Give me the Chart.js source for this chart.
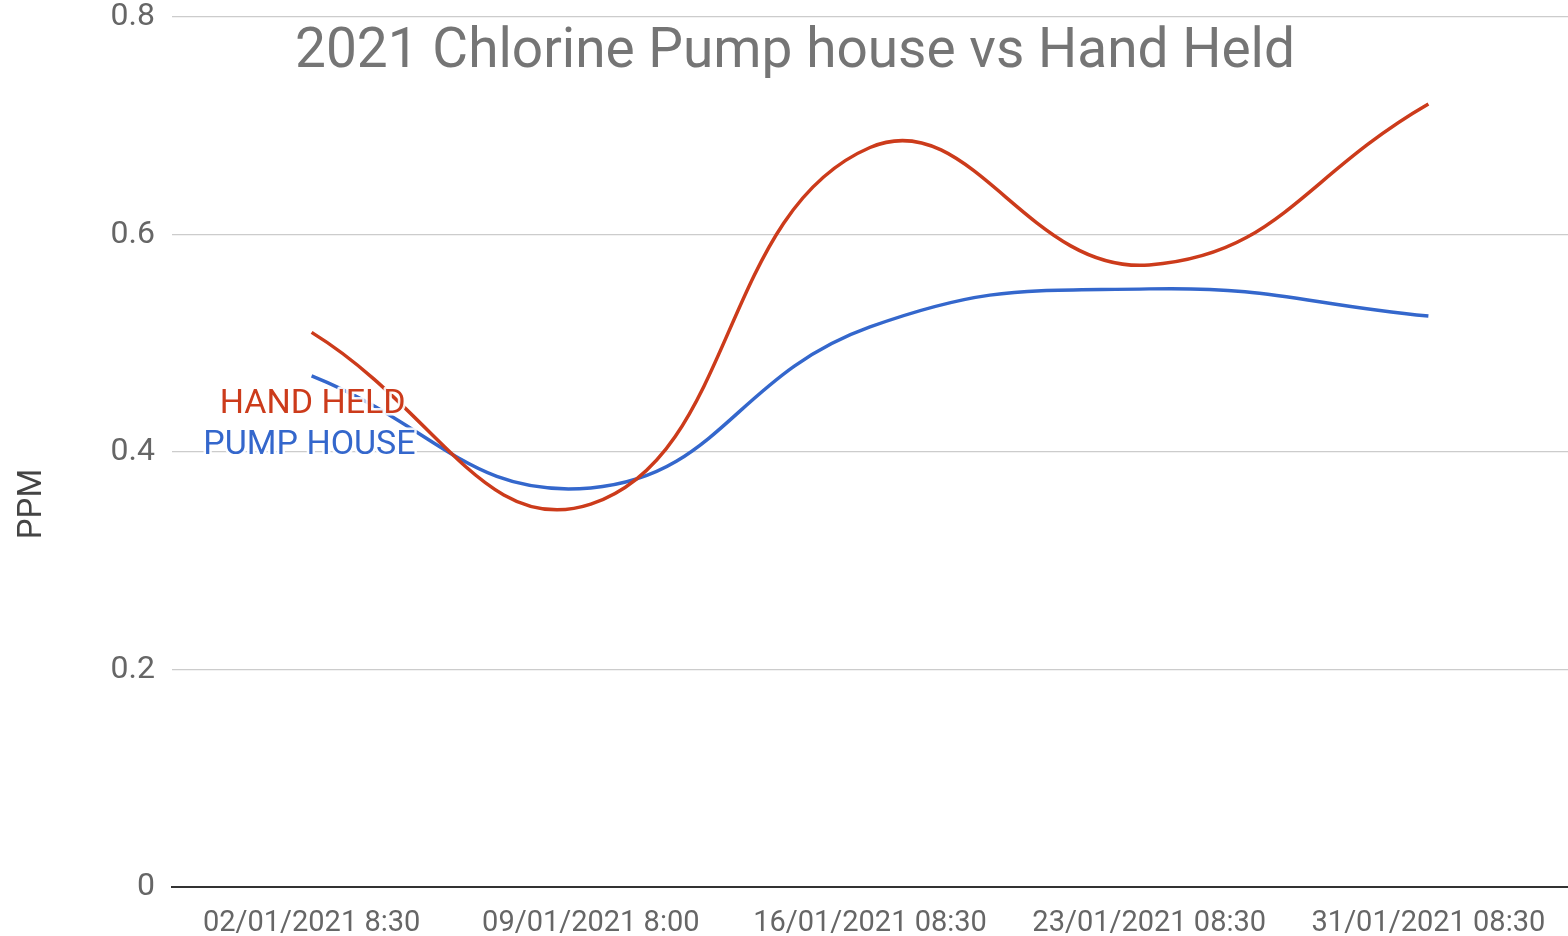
<!DOCTYPE html>
<html>
<head>
<meta charset="utf-8">
<script src="https://cdn.jsdelivr.net/npm/chart.js@4"></script>
<style>
html,body{margin:0;padding:0;background:#fff;overflow:hidden;}
#wrap{position:relative;width:1568px;height:936px;overflow:hidden;}
#wrap canvas{position:absolute;left:0;top:-13px;}
</style>
</head>
<body>
<div id="wrap"><canvas id="c" width="1568" height="949"></canvas></div>
<script>
const categories = ["02/01/2021 8:30","09/01/2021 8:00","16/01/2021 08:30","23/01/2021 08:30","31/01/2021 08:30"];
const handHeld = [0.51, 0.352, 0.68, 0.572, 0.72];
const pumpHouse = [0.47, 0.367, 0.515, 0.55, 0.525];
const yTicks = [0, 0.2, 0.4, 0.6, 0.8];
const titleText = "2021 Chlorine Pump house vs Hand Held";
const yTitle = "PPM";
const seriesNames = ["HAND HELD", "PUMP HOUSE"];

const RED = "#cc3b1b", BLUE = "#3467cc";
const FONT = "Roboto, 'Liberation Sans', sans-serif";

const overlay = {
  id: "overlay",
  afterDatasetsDraw(chart) {
    const ctx = chart.ctx;
    const xs = chart.scales.x, ys = chart.scales.y;
    ctx.save();
    ctx.font = "34px " + FONT;
    ctx.textAlign = "right";
    ctx.textBaseline = "middle";
    ctx.lineJoin = "round";
    const lbl = [
      {t: seriesNames[0], c: RED, v: handHeld[0], dx: 94, dy: 72},
      {t: seriesNames[1], c: BLUE, v: pumpHouse[0], dx: 104, dy: 70}
    ];
    lbl.forEach(l => {
      const x = xs.getPixelForValue(0) + l.dx;
      const y = ys.getPixelForValue(l.v) + l.dy;
      ctx.strokeStyle = "rgba(255,255,255,0.9)";
      ctx.lineWidth = 5;
      ctx.strokeText(l.t, x, y);
      ctx.fillStyle = l.c;
      ctx.fillText(l.t, x, y);
    });
    ctx.font = "55px " + FONT;
    ctx.textAlign = "center";
    ctx.textBaseline = "alphabetic";
    ctx.fillStyle = "#757575";
    ctx.fillText(titleText, 795, 67 + 13);
    ctx.translate(33, 504 + 13);
    ctx.rotate(-Math.PI / 2);
    ctx.font = "33px " + FONT;
    ctx.fillStyle = "#444";
    ctx.textBaseline = "middle";
    ctx.fillText(yTitle, 0, 0);
    ctx.restore();
  }
};

new Chart(document.getElementById("c"), {
  type: "line",
  data: {
    labels: categories,
    datasets: [
      {label: seriesNames[0], data: handHeld, borderColor: RED, borderWidth: 3.5, pointRadius: 0, tension: 0.45, fill: false},
      {label: seriesNames[1], data: pumpHouse, borderColor: BLUE, borderWidth: 3.5, pointRadius: 0, tension: 0.45, fill: false}
    ]
  },
  options: {
    responsive: false,
    animation: false,
    layout: {padding: {top: 30, right: 0, bottom: 0, left: 0}},
    plugins: {legend: {display: false}, title: {display: false}, tooltip: {enabled: false}},
    scales: {
      x: {
        offset: true,
        grid: {display: false, drawTicks: false},
        border: {display: true, color: "#333", width: 2},
        ticks: {color: "#666", font: {family: FONT, size: 29}, padding: 19, maxRotation: 0, autoSkip: false},
        afterFit(s) { s.height = 49; s.paddingLeft = 0; s.paddingRight = 0; }
      },
      y: {
        min: 0, max: 0.8,
        afterBuildTicks(s) { s.ticks = yTicks.map(v => ({value: v})); },
        grid: {color: "#cccccc", lineWidth: 1.2, drawTicks: false},
        border: {display: false},
        ticks: {color: "#666", font: {family: FONT, size: 32}, padding: 17, callback: v => String(v)},
        afterFit(s) { s.width = 172; s.paddingTop = 0; s.paddingBottom = 0; }
      }
    }
  },
  plugins: [overlay]
});
</script>
</body>
</html>
